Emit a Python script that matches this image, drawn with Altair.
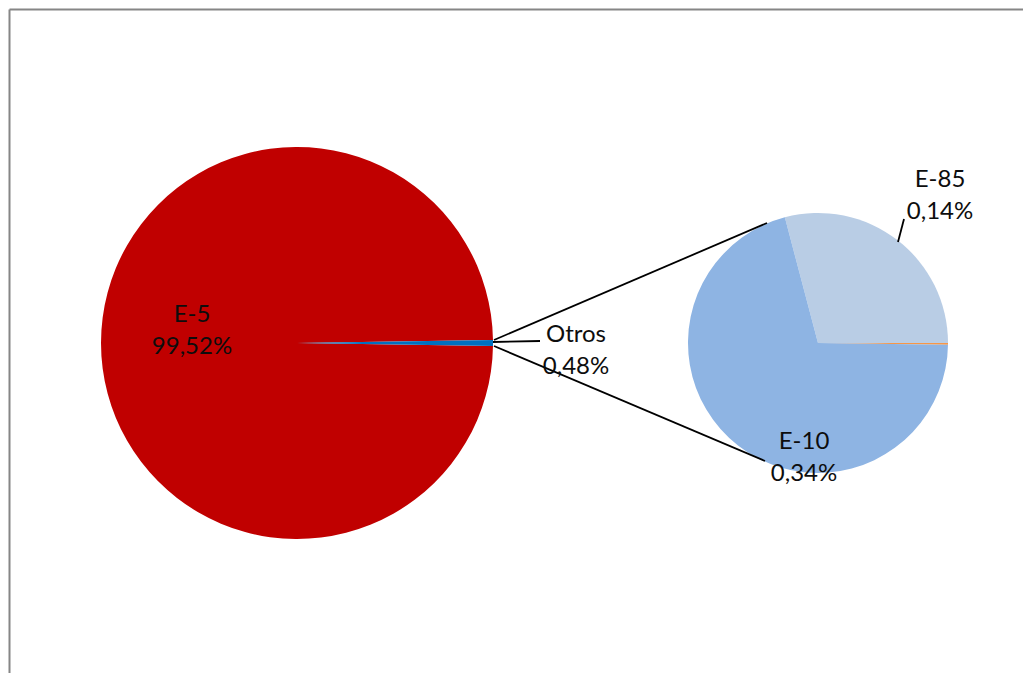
import math
import altair as alt
import pandas as pd

# ---- data ----
main_labels = ["E-5", "Otros"]
main_values = [99.52, 0.48]
main_colors = ["#C00000", "#0070C0"]
main_order = [2, 1]

sub_labels = ["E-85", "resto", "E-10"]
sub_values = [0.14, 0.001, 0.34]
sub_colors = ["#B9CDE5", "#F79646", "#8EB4E3"]
sub_order = [1, 2, 3]


def fmt(v):
    return f"{v:.2f}".replace(".", ",") + "%"


main_df = pd.DataFrame({"cat": main_labels, "value": main_values,
                        "color": main_colors, "ord": main_order})
sub_df = pd.DataFrame({"cat": sub_labels, "value": sub_values,
                       "color": sub_colors, "ord": sub_order})

start_main = math.pi / 2 - math.pi * main_values[1] / sum(main_values)
start_sub = math.pi / 2 - 2 * math.pi * sub_values[0] / sum(sub_values) + 2 * math.pi

W, H = 1015, 665
MAIN_C = (289, 335)
SUB_C = (810, 335)

main_pie = alt.Chart(main_df).mark_arc(outerRadius=196).encode(
    theta=alt.Theta("value:Q", stack=True,
                    scale=alt.Scale(range=[start_main, start_main + 2 * math.pi])),
    color=alt.Color("color:N", scale=None),
    order=alt.Order("ord:Q"),
    x=alt.value(MAIN_C[0]), y=alt.value(MAIN_C[1]),
)

sub_pie = alt.Chart(sub_df).mark_arc(outerRadius=130).encode(
    theta=alt.Theta("value:Q", stack=True,
                    scale=alt.Scale(range=[start_sub, start_sub + 2 * math.pi])),
    color=alt.Color("color:N", scale=None),
    order=alt.Order("ord:Q"),
    x=alt.value(SUB_C[0]), y=alt.value(SUB_C[1]),
)

dummy = pd.DataFrame({"d": [0]})


def line(x1, y1, x2, y2, color="black", width=1.8):
    return alt.Chart(dummy).mark_rule(color=color, strokeWidth=width).encode(
        x=alt.value(x1), y=alt.value(y1), x2=alt.value(x2), y2=alt.value(y2))


def label(text, x, y):
    return alt.Chart(pd.DataFrame({"t": [text]})).mark_text(
        font="Lato", fontSize=24, lineBreak="\n", lineHeight=32,
        align="center", baseline="middle", color="#0D0D0D"
    ).encode(text="t:N", x=alt.value(x), y=alt.value(y))


# chart-area border: only top and left edges are inside the picture
frame_df = pd.DataFrame({"x1": [1.5, 1.5], "y1": [1.5, 1.5],
                         "x2": [W, 1.5], "y2": [1.5, H]})
xs = alt.Scale(domain=[0, W], nice=False, zero=False)
ys = alt.Scale(domain=[0, H], nice=False, zero=False, reverse=True)
frame = alt.Chart(frame_df).mark_rule(color="#868686", strokeWidth=2).encode(
    x=alt.X("x1:Q", scale=xs, axis=None),
    x2="x2:Q",
    y=alt.Y("y1:Q", scale=ys, axis=None),
    y2="y2:Q",
)

layers = [
    main_pie,
    sub_pie,
    line(486, 332, 759, 215),
    line(486, 338, 757, 453),
    line(485, 334, 532, 333),
    line(890, 234, 896, 211),
    label(f"{main_labels[0]}\n{fmt(main_values[0])}", 184, 307),
    label(f"{main_labels[1]}\n{fmt(main_values[1])}", 568, 327),
    label(f"{sub_labels[0]}\n{fmt(sub_values[0])}", 932, 172),
    label(f"{sub_labels[2]}\n{fmt(sub_values[2])}", 796, 434),
    frame,
]

chart = alt.layer(*layers).resolve_scale(theta="independent").properties(
    width=W, height=H, padding=0, autosize=alt.AutoSizeParams(type="none")
).configure_view(strokeWidth=0, stroke="transparent")

chart.save("out.html", embed_options={"renderer": "svg", "actions": False})
